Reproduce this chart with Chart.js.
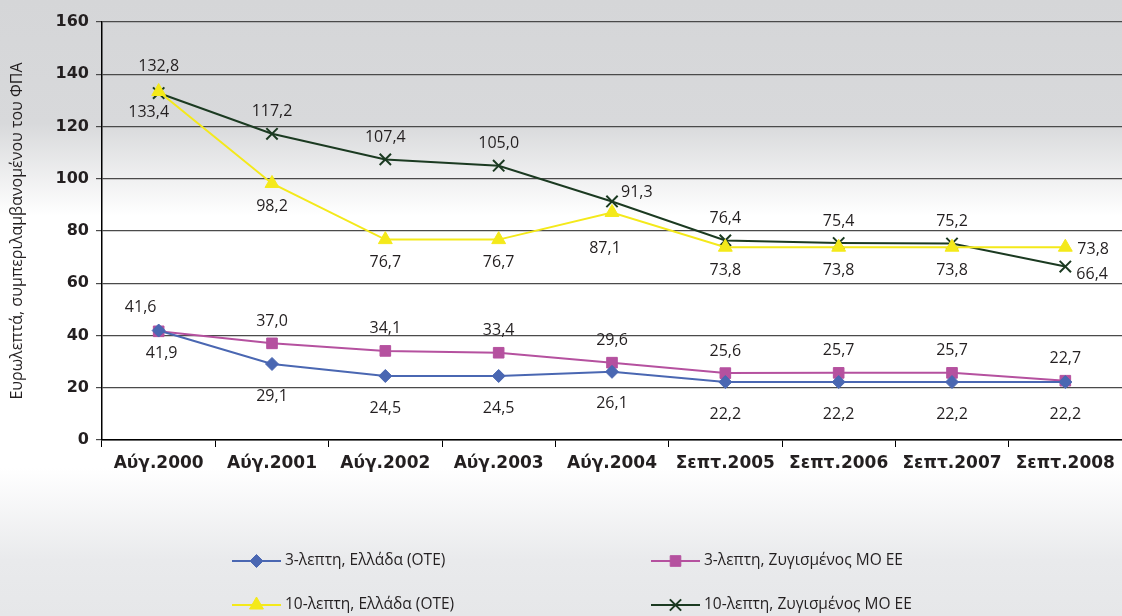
<!DOCTYPE html>
<html><head><meta charset="utf-8">
<script src="https://cdn.jsdelivr.net/npm/chart.js@4/dist/chart.umd.min.js"></script>
<style>html,body{margin:0;padding:0;background:#fff}#wrap{width:1122px;height:616px;position:relative}</style>
</head><body><div id="wrap"><canvas id="c" width="1122" height="616"></canvas></div>
<script>
// ---- data ----
const categories = ['Αύγ.2000','Αύγ.2001','Αύγ.2002','Αύγ.2003','Αύγ.2004','Σεπτ.2005','Σεπτ.2006','Σεπτ.2007','Σεπτ.2008'];
const seriesNames = ['3-λεπτη, Ελλάδα (ΟΤΕ)','3-λεπτη, Ζυγισμένος ΜΟ ΕΕ','10-λεπτη, Ελλάδα (ΟΤΕ)','10-λεπτη, Ζυγισμένος ΜΟ ΕΕ'];
const greece3 = [41.9, 29.1, 24.5, 24.5, 26.1, 22.2, 22.2, 22.2, 22.2];
const eu3     = [41.6, 37.0, 34.1, 33.4, 29.6, 25.6, 25.7, 25.7, 22.7];
const greece10= [133.4, 98.2, 76.7, 76.7, 87.1, 73.8, 73.8, 73.8, 73.8];
const eu10    = [132.8, 117.2, 107.4, 105.0, 91.3, 76.4, 75.4, 75.2, 66.4];
const yTicks  = [0, 20, 40, 60, 80, 100, 120, 140, 160];
const yTitle  = 'Ευρωλεπτά, συμπεριλαμβανομένου του ΦΠΑ';

// label placement codes per series
const place3GR  = ['b1','b','b','b','b','b','b','b','b'];
const place3EU  = ['al','a','a','a','a','a','a','a','a'];
const place10GR = ['bl','b','b','b','bl2','b','b','b','r'];
const place10EU = ['a1','a','a','a','ru','a','a','a','rd'];
// offsets [dx, dy, align] for each code
const placeOffsets = {
  a: [0, -22, 'center'], a1: [0, -27, 'center'], al: [-18, -24, 'center'],
  b: [0, 23, 'center'], b1: [3, 23, 'center'], bl: [-10, 21, 'center'], bl2: [-7, 36, 'center'],
  r: [12, 2, 'left'], ru: [9, -9, 'left'], rd: [11, 8, 'left']
};

const ink = '#231f20';
const fmt = v => v.toFixed(1).replace('.', ',');

const bgPlugin = {
  id: 'bg',
  beforeDraw(chart) {
    const ctx = chart.ctx;
    const g = ctx.createLinearGradient(0, 0, 0, chart.height);
    g.addColorStop(0, '#d5d6d8');
    g.addColorStop(0.20, '#d8d9db');
    g.addColorStop(0.35, '#ffffff');
    g.addColorStop(0.76, '#ffffff');
    g.addColorStop(0.91, '#e9eaec');
    g.addColorStop(1, '#e6e7e9');
    ctx.save();
    ctx.fillStyle = g;
    ctx.fillRect(0, 0, chart.width, chart.height);
    ctx.restore();
  }
};

const labelsPlugin = {
  id: 'vlabels',
  afterDatasetsDraw(chart) {
    const ctx = chart.ctx;
    ctx.save();
    ctx.font = '16px "Open Sans"';
    ctx.fillStyle = ink;
    ctx.textBaseline = 'middle';
    chart.data.datasets.forEach((ds, i) => {
      const meta = chart.getDatasetMeta(i);
      meta.data.forEach((pt, j) => {
        const code = ds.place[j];
        let [dx, dy, al] = placeOffsets[code];
        if (code === 'b' && ds.boff) dy = ds.boff;
        ctx.textAlign = al;
        ctx.fillText(fmt(ds.data[j]), pt.x + dx, pt.y + dy);
      });
    });
    ctx.restore();
  }
};

const legendPlugin = {
  id: 'mylegend',
  afterDraw(chart) {
    const ctx = chart.ctx;
    const cols = [232, 651], rows = [561, 605];
    chart.data.datasets.forEach((ds, i) => {
      const x = cols[i % 2], y = rows[Math.floor(i / 2)];
      ctx.save();
      ctx.strokeStyle = ds.borderColor;
      ctx.lineWidth = 2;
      ctx.beginPath(); ctx.moveTo(x, y); ctx.lineTo(x + 49, y); ctx.stroke();
      ctx.fillStyle = ds.pointBackgroundColor;
      ctx.strokeStyle = ds.pointBorderColor;
      ctx.lineWidth = ds.pointBorderWidth;
      Chart.helpers.drawPoint(ctx, {
        pointStyle: ds.pointStyle, radius: ds.pointRadius, borderWidth: ds.pointBorderWidth, rotation: 0
      }, x + 24.5, y);
      ctx.fillStyle = ink;
      ctx.font = '15.5px "Open Sans"';
      ctx.textAlign = 'left';
      ctx.textBaseline = 'middle';
      ctx.fillText(seriesNames[i], x + 53, y);
      ctx.restore();
    });
  }
};

function mk(label, data, color, style, r, bw, place, boff) {
  return {
    label, data, borderColor: color, backgroundColor: color,
    pointBackgroundColor: color, pointBorderColor: color,
    pointStyle: style, pointRadius: r, pointHoverRadius: r, pointBorderWidth: bw,
    borderWidth: 2, tension: 0, fill: false, place, boff
  };
}

new Chart(document.getElementById('c'), {
  type: 'line',
  data: {
    labels: categories,
    datasets: [
      mk(seriesNames[0], greece3, '#4a67b2', 'rectRot', 6.5, 1, place3GR, 32),
      mk(seriesNames[1], eu3, '#b5519f', 'rect', 7.5, 1, place3EU, 0),
      mk(seriesNames[2], greece10, '#f4e91a', 'triangle', 8, 1, place10GR, 0),
      mk(seriesNames[3], eu10, '#1b3a21', 'crossRot', 8, 2, place10EU, 0)
    ]
  },
  options: {
    responsive: false,
    animation: false,
    devicePixelRatio: 1,
    layout: { autoPadding: false, padding: { top: 22, right: -3, left: 0, bottom: 0 } },
    plugins: { legend: { display: false }, tooltip: { enabled: false } },
    scales: {
      x: {
        type: 'category',
        offset: true,
        grid: { display: true, drawOnChartArea: false, offset: true, color: '#000', tickLength: 7, lineWidth: 1 },
        border: { display: true, color: '#000', width: 1.5 },
        ticks: { color: ink, font: { family: 'DejaVu Sans', weight: 'bold', size: 17 }, padding: 6, maxRotation: 0, autoSkip: false },
        afterFit(s) { s.height = 176; s.paddingRight = 0; s.paddingLeft = 0; }
      },
      y: {
        min: 0, max: 160,
        afterBuildTicks(s) { s.ticks = yTicks.map(v => ({ value: v })); },
        grid: { color: '#4a4a4a', lineWidth: 1.2, tickLength: 6 },
        border: { display: true, color: '#000', width: 1.5 },
        ticks: { color: ink, font: { family: 'DejaVu Sans', weight: 'bold', size: 16 }, padding: 7 },
        title: { display: true, text: yTitle, color: ink, font: { family: 'Open Sans', size: 16 }, padding: { top: 8, bottom: 0 } },
        afterFit(s) { s.width = 102; }
      }
    }
  },
  plugins: [bgPlugin, labelsPlugin, legendPlugin]
});
</script>
</body></html>
